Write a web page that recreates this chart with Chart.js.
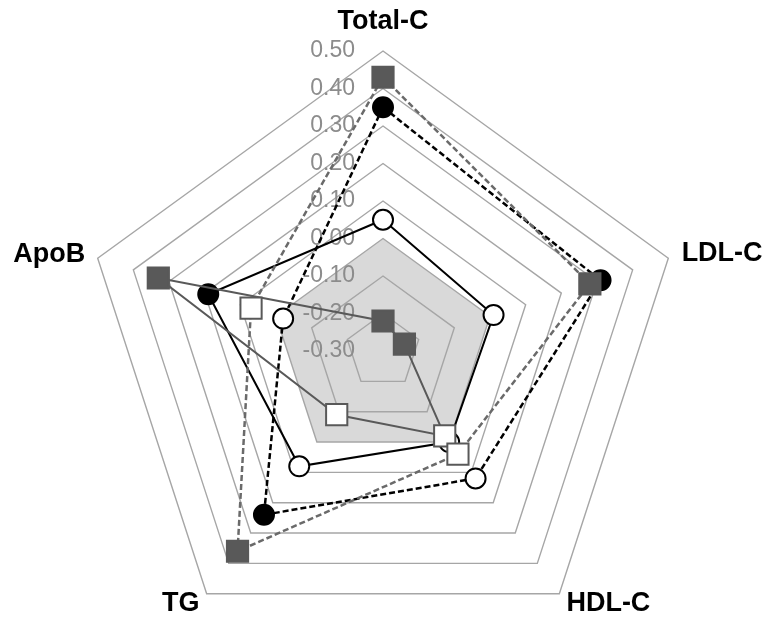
<!DOCTYPE html>
<html>
<head>
<meta charset="utf-8">
<script src="https://cdn.jsdelivr.net/npm/chart.js@4"></script>
<style>
html, body { margin: 0; padding: 0; background: #fff; overflow: hidden; width: 765px; height: 618px; }
#wrap { position: absolute; left: -99px; top: 0; }
canvas { display: block; }
</style>
</head>
<body>
<div id="wrap"><canvas id="c" width="965" height="666"></canvas></div>
<script>
// ---- data ----
const categories = ['Total-C', 'LDL-C', 'HDL-C', 'TG', 'ApoB'];
const tickValues = [-0.30, -0.20, -0.10, 0.00, 0.10, 0.20, 0.30, 0.40, 0.50];
const zeroArea = [0, 0, 0, 0, 0];

// white circles, solid black line
const seriesA = [0.05, 0.01, 0.00, 0.08, 0.19];
const filledA = [false, false, false, false, true];
// circles, dashed black line
const seriesB = [0.35, 0.31, 0.12, 0.24, -0.02];
const filledB = [true, true, false, true, false];
// squares, dashed gray line
const seriesC = [0.43, 0.28, 0.04, 0.36, 0.07];
const filledC = [true, true, false, true, false];
// squares, solid gray line
const seriesD = [-0.22, -0.24, -0.02, -0.09, 0.33];
const filledD = [true, true, false, false, true];

// ---- styles ----
const BLACK = '#000000';
const GRAY = '#595959';
const labelPadding = [29, 14, 12, 12, 13];

function makeSeries(label, values, filled, lineColor, markColor, width, dash, shape, radius) {
  return {
    label: label,
    data: values,
    borderColor: lineColor,
    borderWidth: width,
    borderDash: dash,
    fill: false,
    pointStyle: shape,
    pointRadius: radius,
    pointBorderWidth: 2,
    pointBorderColor: markColor,
    pointBackgroundColor: filled.map(f => f ? markColor : '#ffffff')
  };
}

const tickLabelPlugin = {
  id: 'tickLabels',
  beforeDatasetsDraw(chart) {
    const s = chart.scales.r;
    const ctx = chart.ctx;
    ctx.save();
    ctx.font = '23px "Liberation Sans", Arial, sans-serif';
    ctx.fillStyle = '#8c8c8c';
    ctx.textAlign = 'right';
    ctx.textBaseline = 'middle';
    tickValues.forEach(v => {
      const d = s.getDistanceFromCenterForValue(v);
      ctx.fillText(v.toFixed(2), s.xCenter - 28, s.yCenter - d);
    });
    ctx.restore();
  }
};

new Chart(document.getElementById('c'), {
  type: 'radar',
  data: {
    labels: categories,
    datasets: [
      makeSeries('C', seriesC, filledC, '#6a6a6a', GRAY, 2.5, [6, 3], 'rect', 15),
      makeSeries('D', seriesD, filledD, GRAY, GRAY, 2, [], 'rect', 15),
      makeSeries('B', seriesB, filledB, BLACK, BLACK, 2.5, [6, 3], 'circle', 10),
      makeSeries('A', seriesA, filledA, BLACK, BLACK, 2, [], 'circle', 10),
      {
        label: 'zero',
        data: zeroArea,
        backgroundColor: '#d9d9d9',
        borderWidth: 0,
        borderColor: 'rgba(0,0,0,0)',
        pointRadius: 0,
        fill: 'start'
      }
    ]
  },
  options: {
    responsive: false,
    devicePixelRatio: 1,
    animation: false,
    layout: { padding: { top: 8, bottom: 0, left: 0, right: 0 } },
    elements: { line: { tension: 0 } },
    plugins: {
      legend: { display: false },
      tooltip: { enabled: false },
      filler: { drawTime: 'beforeDraw' }
    },
    scales: {
      r: {
        min: -0.3,
        max: 0.5,
        ticks: { display: false, stepSize: 0.1 },
        grid: { color: '#a6a6a6', lineWidth: 1.4 },
        angleLines: { display: false },
        pointLabels: {
          display: true,
          color: '#000',
          font: { family: '"Liberation Sans", Arial, sans-serif', size: 27, weight: 'bold', lineHeight: 0 },
          padding: (ctx) => labelPadding[ctx.index]
        }
      }
    }
  },
  plugins: [tickLabelPlugin]
});
</script>
</body>
</html>
